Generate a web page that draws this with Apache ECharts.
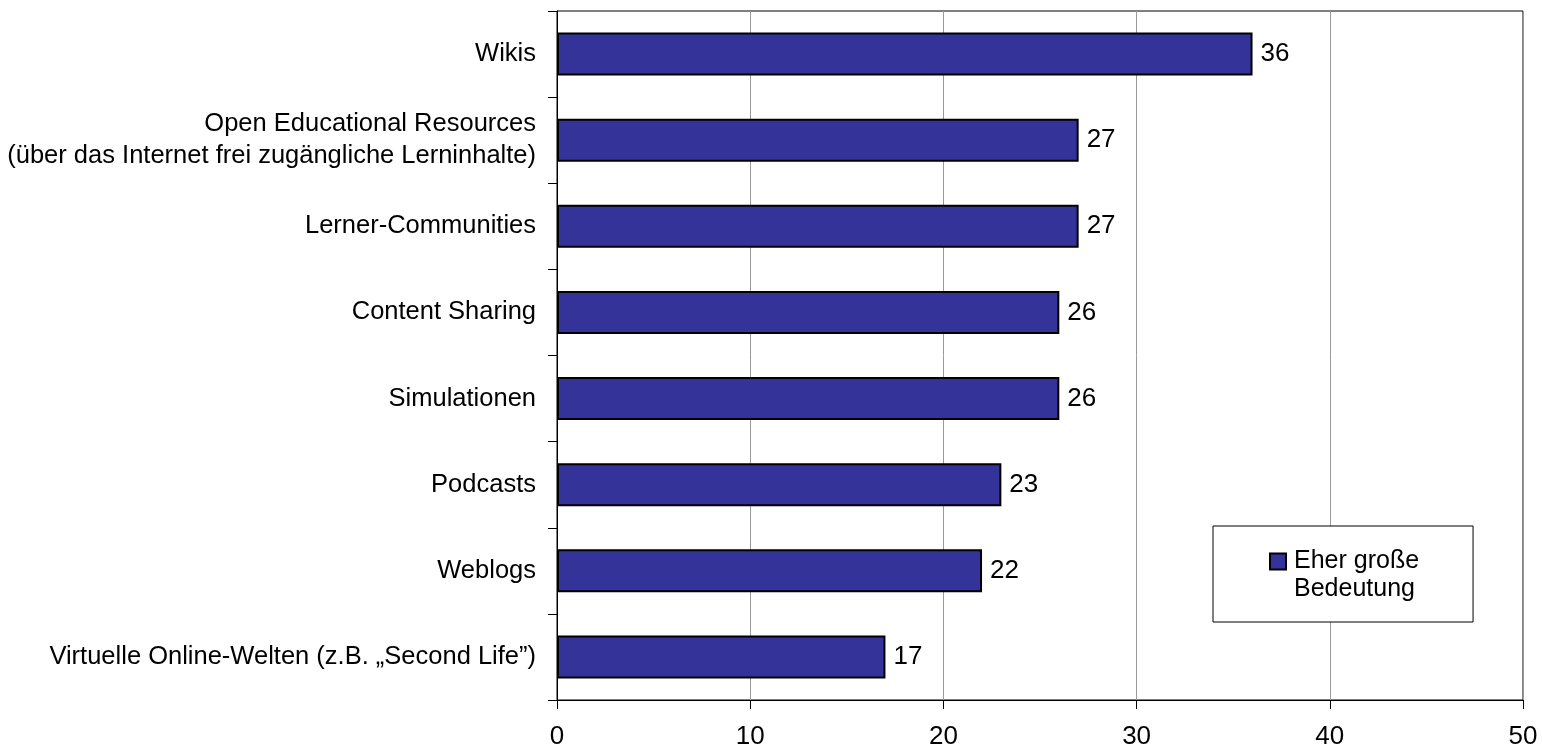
<!DOCTYPE html>
<html>
<head>
<meta charset="utf-8">
<script src="https://cdn.jsdelivr.net/npm/echarts@6/dist/echarts.min.js"></script>
<style>
  html, body { margin: 0; padding: 0; background: #fff; }
  #chart { width: 1542px; height: 752px; }
</style>
</head>
<body>
<div id="chart"></div>
<script>
// Kategorien von oben nach unten
const categories = [
  'Wikis',
  'Open Educational Resources\n(über das Internet frei zugängliche Lerninhalte)',
  'Lerner-Communities',
  'Content Sharing',
  'Simulationen',
  'Podcasts',
  'Weblogs',
  'Virtuelle Online-Welten (z.B. „Second Life”)'
]
const values = [36, 27, 27, 26, 26, 23, 22, 17]
const seriesName = 'Eher große Bedeutung'
const legendLines = ['Eher große', 'Bedeutung']
const xTicks = { min: 0, max: 50, interval: 10 }

const font = 'Liberation Sans, Arial, sans-serif'
const chart = echarts.init(document.getElementById('chart'))

chart.setOption({
  animation: false,
  textStyle: { fontFamily: font, color: '#000' },
  grid: {
    left: 557,
    right: 19,
    top: 11,
    bottom: 52,
    containLabel: false,
    outerBoundsMode: 'none',
    show: true,
    borderColor: '#000',
    borderWidth: 1
  },
  legend: {
    left: 1213,
    top: 526,
    padding: [23, 54, 20, 56],
    borderColor: '#000',
    borderWidth: 1,
    backgroundColor: '#fff',
    icon: 'rect',
    itemWidth: 16,
    itemHeight: 16,
    itemGap: 0,
    // erste Zeile auf Höhe des Symbols, zweite darunter
    formatter: () => '{a|' + legendLines[0] + '}\n{b|' + legendLines[1] + '}',
    textStyle: {
      fontSize: 25,
      color: '#000',
      fontFamily: font,
      rich: {
        a: { fontSize: 25, lineHeight: 56, padding: [0, 0, 0, 3], fontFamily: font },
        b: { fontSize: 25, lineHeight: 0.01, padding: [0, 0, 0, 3], fontFamily: font }
      }
    },
    data: [seriesName]
  },
  xAxis: {
    type: 'value',
    min: xTicks.min,
    max: xTicks.max,
    interval: xTicks.interval,
    axisLine: { show: true, lineStyle: { color: '#000', width: 1 } },
    axisTick: { show: true, length: 9, lineStyle: { color: '#000' } },
    axisLabel: { fontSize: 26, color: '#000', margin: 24, fontFamily: font },
    splitLine: { show: true, lineStyle: { color: '#999', width: 1 } }
  },
  yAxis: {
    type: 'category',
    inverse: true,
    data: categories,
    axisLine: { show: true, lineStyle: { color: '#000', width: 1 } },
    axisTick: { show: true, length: 9, lineStyle: { color: '#000' } },
    axisLabel: { fontSize: 25.5, color: '#000', margin: 21, lineHeight: 32, align: 'right', fontFamily: font },
    splitLine: { show: false }
  },
  series: [{
    name: seriesName,
    type: 'bar',
    data: values,
    barWidth: '50%',
    itemStyle: { color: '#333399', borderColor: '#000', borderWidth: 2 },
    label: {
      show: true,
      position: 'right',
      distance: 8,
      fontSize: 26,
      color: '#000',
      fontFamily: font
    }
  }]
})
</script>
</body>
</html>
